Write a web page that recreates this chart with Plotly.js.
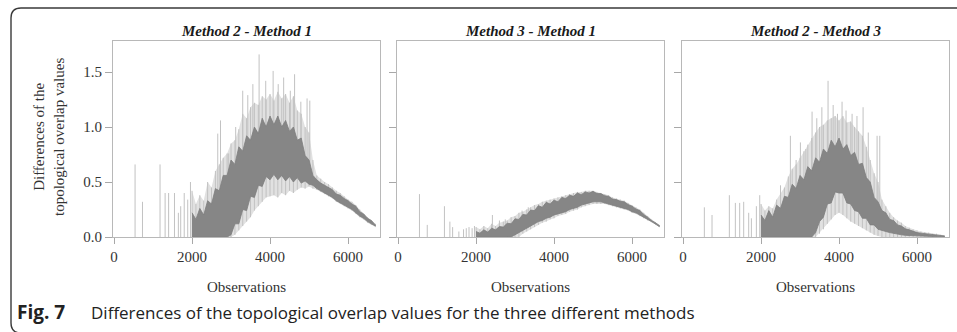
<!DOCTYPE html>
<html>
<head>
<meta charset="utf-8">
<script src="https://cdn.plot.ly/plotly-3.0.1.min.js"></script>
<style>html,body{margin:0;padding:0;background:#fff;}#chart{width:957px;height:332px;}</style>
</head>
<body>
<div id="chart"></div>
<script>
// Observation grid (read every 100 observations along the dense band)
const obs = [2000,2100,2200,2300,2400,2500,2600,2700,2800,2900,
             3000,3100,3200,3300,3400,3500,3600,3700,3800,3900,
             4000,4100,4200,4300,4400,4500,4600,4700,4800,4900,
             5000,5100,5200,5300,5400,5500,5600,5700,5800,5900,
             6000,6100,6200,6300,6400,6500,6600,6700];

const panelTitles = ["Method 2 - Method 1", "Method 3 - Method 1", "Method 2 - Method 3"];
const xTickVals = [0, 2000, 4000, 6000];
const yTickVals = [0, 0.5, 1.0, 1.5];
const yTickText = ["0.0", "0.5", "1.0", "1.5"];

// ---- Panel 1: Method 2 - Method 1 ----
const p1DarkHi = [0.22,0.16,0.26,0.20,0.33,0.30,0.44,0.42,0.56,0.56,
                  0.70,0.66,0.82,0.78,0.92,0.88,1.00,0.94,1.08,1.00,
                  1.10,1.02,1.10,1.00,1.06,0.96,1.00,0.88,0.90,0.74,
                  0.70,0.56,0.52,0.49,0.47,0.45,0.43,0.39,0.38,0.35,
                  0.33,0.30,0.28,0.23,0.21,0.17,0.15,0.11];
const p1DarkLo = [0,0,0,0,0,0,0,0,0,0,
                  0.02,0.12,0.12,0.25,0.24,0.37,0.36,0.47,0.46,0.55,
                  0.52,0.57,0.52,0.56,0.51,0.55,0.50,0.54,0.49,0.51,
                  0.48,0.47,0.44,0.42,0.40,0.38,0.36,0.33,0.31,0.29,
                  0.27,0.25,0.22,0.19,0.17,0.14,0.12,0.10];
const p1LightHi = [0.42,0.30,0.38,0.33,0.50,0.45,0.60,0.66,0.72,0.76,
                   0.85,0.88,0.98,1.12,1.08,1.18,1.22,1.20,1.28,1.25,
                   1.30,1.24,1.32,1.26,1.30,1.22,1.28,1.15,1.12,1.00,
                   0.95,0.70,0.56,0.53,0.50,0.48,0.45,0.42,0.40,0.37,
                   0.34,0.32,0.29,0.25,0.21,0.18,0.15,0.12];
const p1LightLo = [0,0,0,0,0,0,0,0,0,0,
                   0,0.02,0.06,0.10,0.14,0.18,0.24,0.28,0.32,0.36,
                   0.37,0.38,0.36,0.40,0.38,0.42,0.40,0.43,0.45,0.44,
                   0.46,0.44,0.43,0.41,0.39,0.37,0.35,0.32,0.30,0.28,
                   0.26,0.24,0.21,0.18,0.16,0.13,0.11,0.09];
const p1SpikeObs  = [540,730,1180,1310,1400,1550,1650,1710,1800,1890,1960,
                     2660,2730,2940,3120,3300,3430,3560,3720,3890,4080,4210,4350,4520,4630,4790,4950,5020];
const p1SpikeBase = [0,0,0,0,0,0,0,0,0,0,0,
                     0.2,0.2,0.3,0.4,0.5,0.5,0.6,0.6,0.7,0.7,0.7,0.7,0.7,0.7,0.7,0.6,0.6];
const p1SpikeTop  = [0.66,0.32,0.66,0.40,0.40,0.40,0.22,0.28,0.40,0.34,0.50,
                     0.94,1.06,0.76,1.00,1.33,1.29,1.39,1.66,1.42,1.51,1.39,1.45,1.33,1.48,1.23,1.26,1.24];

// ---- Panel 2: Method 3 - Method 1 ----
const p2DarkHi = [0.05,0.035,0.065,0.045,0.08,0.065,0.095,0.09,0.125,0.12,
                  0.165,0.16,0.205,0.20,0.245,0.24,0.285,0.27,0.315,0.30,
                  0.335,0.32,0.36,0.35,0.38,0.37,0.40,0.385,0.41,0.40,
                  0.415,0.395,0.395,0.375,0.37,0.345,0.34,0.325,0.32,0.295,
                  0.28,0.255,0.24,0.205,0.18,0.15,0.13,0.105];
const p2DarkLo = [0,0,0,0,0,0,0,0,0,0,
                  0.02,0.04,0.06,0.08,0.10,0.12,0.14,0.15,0.17,0.18,
                  0.20,0.21,0.22,0.23,0.25,0.26,0.27,0.29,0.30,0.31,
                  0.32,0.32,0.32,0.31,0.30,0.29,0.28,0.27,0.26,0.25,
                  0.23,0.22,0.20,0.18,0.16,0.14,0.12,0.095];
const p2LightHi = [0.09,0.07,0.10,0.08,0.12,0.10,0.13,0.14,0.15,0.18,
                   0.19,0.22,0.23,0.25,0.27,0.29,0.30,0.32,0.33,0.34,
                   0.35,0.36,0.37,0.38,0.39,0.40,0.41,0.41,0.42,0.42,
                   0.42,0.41,0.40,0.39,0.38,0.36,0.35,0.34,0.33,0.31,
                   0.29,0.27,0.25,0.22,0.19,0.16,0.135,0.11];
const p2LightLo = [0,0,0,0,0,0,0,0,0,0,
                   0,0,0.03,0.05,0.07,0.09,0.11,0.13,0.14,0.16,
                   0.17,0.19,0.20,0.21,0.23,0.24,0.25,0.27,0.28,0.29,
                   0.30,0.30,0.30,0.30,0.29,0.28,0.27,0.26,0.25,0.24,
                   0.22,0.21,0.19,0.17,0.15,0.135,0.115,0.09];
const p2SpikeObs  = [550,750,1190,1330,1400,1560,1680,1750,1820,1900,1960,2420,2600,2750,3180,3340];
const p2SpikeBase = [0,0,0,0,0,0,0,0,0,0,0,0,0,0.02,0.05,0.08];
const p2SpikeTop  = [0.39,0.11,0.28,0.14,0.09,0.05,0.07,0.08,0.09,0.08,0.10,0.20,0.15,0.16,0.24,0.27];

// ---- Panel 3: Method 2 - Method 3 ----
const p3DarkHi = [0.20,0.15,0.24,0.18,0.29,0.26,0.37,0.36,0.48,0.44,
                  0.56,0.52,0.64,0.60,0.72,0.68,0.80,0.76,0.88,0.82,
                  0.90,0.80,0.84,0.74,0.77,0.66,0.67,0.54,0.50,0.36,
                  0.32,0.24,0.22,0.16,0.15,0.11,0.10,0.075,0.065,0.05,
                  0.04,0.035,0.03,0.025,0.02,0.018,0.014,0.01];
const p3DarkLo = [0,0,0,0,0,0,0,0,0,0,
                  0,0,0,0,0.04,0.14,0.18,0.30,0.31,0.41,
                  0.40,0.40,0.31,0.30,0.24,0.23,0.17,0.17,0.11,0.11,
                  0.07,0.06,0.05,0.04,0.03,0.025,0.02,0.015,0.01,0.008,
                  0.006,0.005,0.004,0.003,0.002,0.002,0.001,0];
const p3LightHi = [0.30,0.24,0.28,0.26,0.34,0.40,0.45,0.55,0.62,0.66,
                   0.72,0.78,0.84,0.90,0.95,1.00,1.02,1.06,1.08,1.10,
                   1.06,1.10,1.04,1.05,1.00,0.96,0.92,0.82,0.70,0.58,
                   0.50,0.34,0.28,0.22,0.18,0.15,0.13,0.10,0.085,0.07,
                   0.06,0.05,0.045,0.04,0.03,0.03,0.02,0.015];
const p3LightLo = [0,0,0,0,0,0,0,0,0,0,
                   0,0,0,0,0,0.03,0.07,0.12,0.16,0.20,
                   0.22,0.20,0.17,0.14,0.12,0.10,0.08,0.06,0.04,0.02,
                   0.01,0,0,0,0,0,0,0,0,0,
                   0,0,0,0,0,0,0,0];
const p3SpikeObs  = [547,744,1188,1342,1453,1556,1684,1753,1881,1967,
                     2500,2753,2900,3010,3150,3309,3430,3560,3719,3850,3960,4078,4180,4335,4460,4617,4750,4976,5045];
const p3SpikeBase = [0,0,0,0,0,0,0,0,0,0,
                     0.1,0.2,0.2,0.3,0.3,0.3,0.4,0.4,0.5,0.5,0.5,0.5,0.5,0.4,0.4,0.3,0.3,0.2,0.2];
const p3SpikeTop  = [0.27,0.20,0.38,0.31,0.31,0.32,0.22,0.17,0.28,0.38,
                     0.47,0.92,0.70,0.86,0.80,1.14,1.08,1.18,1.42,1.20,1.12,1.23,1.15,1.12,1.10,1.18,0.95,0.92,0.92];

// ---------- build traces ----------
function segments(xs, lo, hi) {
  const x = [], y = [];
  xs.forEach((v, i) => { x.push(v, v, null); y.push(lo[i], hi[i], null); });
  return {x, y};
}
function polygon(xs, lo, hi) {
  return {x: xs.concat(xs.slice().reverse()), y: hi.concat(lo.slice().reverse())};
}

const panels = [
  {xa: "x",  ya: "y",  dHi: p1DarkHi, dLo: p1DarkLo, lHi: p1LightHi, lLo: p1LightLo, sx: p1SpikeObs, sb: p1SpikeBase, st: p1SpikeTop},
  {xa: "x2", ya: "y2", dHi: p2DarkHi, dLo: p2DarkLo, lHi: p2LightHi, lLo: p2LightLo, sx: p2SpikeObs, sb: p2SpikeBase, st: p2SpikeTop},
  {xa: "x3", ya: "y3", dHi: p3DarkHi, dLo: p3DarkLo, lHi: p3LightHi, lLo: p3LightLo, sx: p3SpikeObs, sb: p3SpikeBase, st: p3SpikeTop}
];

const LIGHT_FILL = "#e1e1e1", LIGHT_LINE = "#c2c2c2", DARK = "#868686";
const traces = [];
panels.forEach(p => {
  const lp = polygon(obs, p.lLo, p.lHi);
  traces.push({type: "scatter", mode: "lines", x: lp.x, y: lp.y, xaxis: p.xa, yaxis: p.ya,
    fill: "toself", fillcolor: LIGHT_FILL, line: {width: 0}, hoverinfo: "skip"});
  const ls = segments(obs, p.lLo, p.lHi);
  traces.push({type: "scatter", mode: "lines", x: ls.x, y: ls.y, xaxis: p.xa, yaxis: p.ya,
    line: {color: LIGHT_LINE, width: 1}, hoverinfo: "skip"});
  const ss = segments(p.sx, p.sb, p.st);
  traces.push({type: "scatter", mode: "lines", x: ss.x, y: ss.y, xaxis: p.xa, yaxis: p.ya,
    line: {color: LIGHT_LINE, width: 1}, hoverinfo: "skip"});
  const dp = polygon(obs, p.dLo, p.dHi);
  traces.push({type: "scatter", mode: "lines", x: dp.x, y: dp.y, xaxis: p.xa, yaxis: p.ya,
    fill: "toself", fillcolor: DARK, line: {color: "#7e7e7e", width: 0.8}, hoverinfo: "skip"});
});

// ---------- layout ----------
const W = 957, H = 332;
const px = v => v / W, py = v => 1 - v / H;
const doms = [[113, 380], [397, 664], [682, 949]];
const serif = "'Liberation Serif', 'DejaVu Serif', serif";
const sans = "'Open Sans', 'Noto Sans', sans-serif";
const tickFont = {family: serif, size: 15, color: "#333"};

const layout = {
  width: W, height: H, margin: {l: 0, r: 0, t: 0, b: 0},
  paper_bgcolor: "#fff", plot_bgcolor: "#fff", showlegend: false,
  annotations: [], shapes: []
};
doms.forEach((d, i) => {
  const s = i === 0 ? "" : String(i + 1);
  layout["xaxis" + s] = {
    domain: [px(d[0]), px(d[1])], range: [-26, 6820], anchor: "y" + s,
    tickvals: xTickVals, ticks: "outside", ticklen: 6, tickwidth: 1, tickcolor: "#a8a8a8",
    showline: true, mirror: true, linecolor: "#b8b8b8", linewidth: 1,
    showgrid: false, zeroline: false, tickfont: tickFont, fixedrange: true
  };
  layout["yaxis" + s] = {
    domain: [py(237), py(41)], range: [0, 1.782], anchor: "x" + s,
    tickvals: yTickVals, ticktext: yTickText, ticks: "outside", ticklen: 7, tickwidth: 1, tickcolor: "#a8a8a8",
    showline: true, mirror: true, linecolor: "#b8b8b8", linewidth: 1,
    showgrid: false, zeroline: false, showticklabels: i === 0, tickfont: tickFont, fixedrange: true
  };
  const cx = px((d[0] + d[1]) / 2);
  layout.annotations.push({xref: "paper", yref: "paper", x: cx, y: py(31), xanchor: "center", yanchor: "middle",
    text: "<b><i>" + panelTitles[i] + "</i></b>", showarrow: false, font: {family: serif, size: 15, color: "#1a1a1a"}});
  layout.annotations.push({xref: "paper", yref: "paper", x: cx, y: py(287), xanchor: "center", yanchor: "middle",
    text: "Observations", showarrow: false, font: {family: serif, size: 15, color: "#333"}});
});
layout.annotations.push({xref: "paper", yref: "paper", x: px(49), y: py(137), xanchor: "center", yanchor: "middle",
  textangle: -90, text: "Differences of the<br>topological overlap values", showarrow: false,
  font: {family: serif, size: 15, color: "#333"}});
layout.annotations.push({xref: "paper", yref: "paper", x: px(15), y: py(312), xanchor: "left", yanchor: "middle",
  text: "<b>Fig. 7</b>", showarrow: false, font: {family: sans, size: 19, color: "#222"}});
layout.annotations.push({xref: "paper", yref: "paper", x: px(89), y: py(312), xanchor: "left", yanchor: "middle",
  text: "Differences of the topological overlap values for the three different methods", showarrow: false,
  font: {family: sans, size: 17, color: "#222"}});
// rounded outer frame
layout.shapes.push({type: "path", xref: "paper", yref: "paper",
  path: `M ${px(21)},${py(333)} Q ${px(11)},${py(333)} ${px(11)},${py(323)} L ${px(11)},${py(18)} Q ${px(11)},${py(8)} ${px(21)},${py(8)} L ${px(965)},${py(8)}`,
  line: {color: "#3a3a3a", width: 1.4}});

Plotly.newPlot("chart", traces, layout, {staticPlot: true, displayModeBar: false});
</script>
</body>
</html>
